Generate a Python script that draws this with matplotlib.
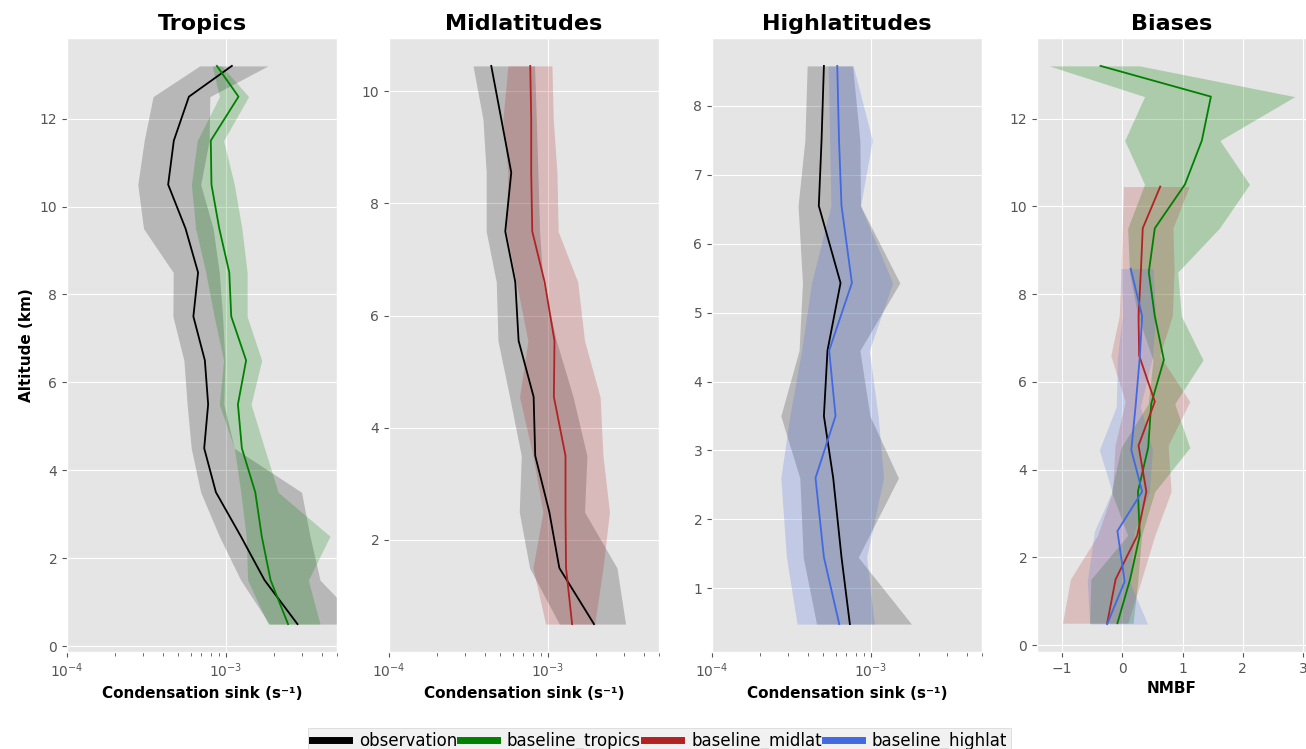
import matplotlib
matplotlib.use("Agg")
import matplotlib.pyplot as plt
from matplotlib.lines import Line2D
from matplotlib.font_manager import FontProperties

plt.style.use("ggplot")

OBS = "black"
TROP = "green"
MID = "firebrick"
HIGH = "royalblue"

# --- altitudes of the bins (km) ---
alt_trop = [0.5, 1.5, 2.5, 3.5, 4.5, 5.5, 6.5, 7.5, 8.5, 9.5, 10.5, 11.5, 12.5, 13.2]
alt_mid = [0.5, 1.5, 2.5, 3.5, 4.55, 5.55, 6.6, 7.5, 8.55, 9.5, 10.45]
alt_high = [0.48, 1.45, 2.6, 3.5, 4.45, 5.43, 6.55, 7.5, 8.58]

# --- tropics: condensation sink (s-1) ---
trop_obs = [2.82e-3, 1.75e-3, 1.24e-3, 8.65e-4, 7.30e-4, 7.73e-4, 7.37e-4, 6.24e-4,
            6.68e-4, 5.57e-4, 4.33e-4, 4.70e-4, 5.85e-4, 1.09e-3]
trop_obs_lo = [1.88e-3, 1.24e-3, 9.08e-4, 6.94e-4, 6.05e-4, 5.70e-4, 5.44e-4, 4.64e-4,
               4.66e-4, 3.03e-4, 2.79e-4, 3.06e-4, 3.48e-4, 6.84e-4]
trop_obs_hi = [7.2e-3, 3.91e-3, 3.38e-3, 2.99e-3, 1.13e-3, 9.7e-4, 9.86e-4, 9.53e-4,
               9.08e-4, 8.31e-4, 6.94e-4, 7.84e-4, 7.92e-4, 1.84e-3]
trop_mod = [2.46e-3, 1.91e-3, 1.68e-3, 1.53e-3, 1.26e-3, 1.19e-3, 1.34e-3, 1.08e-3,
            1.05e-3, 9.08e-4, 8.11e-4, 8.03e-4, 1.20e-3, 8.77e-4]
trop_mod_lo = [1.84e-3, 1.37e-3, 1.34e-3, 1.24e-3, 1.13e-3, 9.08e-4, 9.67e-4, 8.43e-4,
               7.47e-4, 6.45e-4, 6.06e-4, 6.6e-4, 9.1e-4, 8.2e-4]
trop_mod_hi = [3.91e-3, 3.30e-3, 4.52e-3, 2.13e-3, 1.75e-3, 1.44e-3, 1.68e-3, 1.36e-3,
               1.36e-3, 1.26e-3, 1.13e-3, 9.67e-4, 1.39e-3, 9.4e-4]

# --- midlatitudes ---
mid_obs = [1.95e-3, 1.18e-3, 1.02e-3, 8.32e-4, 8.13e-4, 6.54e-4, 6.23e-4, 5.39e-4,
           5.88e-4, 5.09e-4, 4.40e-4]
mid_obs_lo = [1.18e-3, 7.67e-4, 6.6e-4, 6.8e-4, 5.74e-4, 4.85e-4, 4.73e-4, 4.09e-4,
              4.09e-4, 3.90e-4, 3.38e-4]
mid_obs_hi = [3.08e-3, 2.72e-3, 1.70e-3, 1.76e-3, 1.44e-3, 1.13e-3, 9.30e-4, 8.86e-4,
              8.65e-4, 8.45e-4, 8.24e-4]
mid_mod = [1.42e-3, 1.30e-3, 1.29e-3, 1.29e-3, 1.09e-3, 1.10e-3, 9.53e-4, 7.97e-4,
           7.85e-4, 7.85e-4, 7.74e-4]
mid_mod_lo = [9.67e-4, 8.05e-4, 9.30e-4, 8.05e-4, 6.63e-4, 7.48e-4, 6.32e-4, 5.47e-4,
              5.6e-4, 5.21e-4, 5.6e-4]
mid_mod_hi = [1.97e-3, 2.22e-3, 2.44e-3, 2.22e-3, 2.13e-3, 1.70e-3, 1.54e-3, 1.16e-3,
              1.14e-3, 1.08e-3, 1.06e-3]

# --- highlatitudes ---
high_obs = [7.37e-4, 6.53e-4, 5.79e-4, 5.06e-4, 5.33e-4, 6.44e-4, 4.70e-4, 4.89e-4, 5.06e-4]
high_obs_lo = [4.55e-4, 3.75e-4, 3.57e-4, 2.71e-4, 3.53e-4, 3.71e-4, 3.48e-4, 3.84e-4, 3.97e-4]
high_obs_hi = [1.80e-3, 8.32e-4, 1.49e-3, 9.86e-4, 8.52e-4, 1.52e-3, 8.6e-4, 8.52e-4, 7.66e-4]
high_mod = [6.32e-4, 5.06e-4, 4.48e-4, 5.99e-4, 5.46e-4, 7.59e-4, 6.53e-4, 6.3e-4, 6.14e-4]
high_mod_lo = [3.43e-4, 2.94e-4, 2.71e-4, 3.09e-4, 3.66e-4, 4.23e-4, 5.60e-4, 5.5e-4, 5.38e-4]
high_mod_hi = [1.05e-3, 9.39e-4, 1.20e-3, 1.11e-3, 9.76e-4, 1.37e-3, 8.6e-4, 1.02e-3, 7.74e-4]

# --- biases (NMBF) ---
bias_trop = [-0.08, 0.13, 0.29, 0.26, 0.43, 0.48, 0.69, 0.54, 0.44, 0.54, 1.04, 1.32, 1.47, -0.36]
bias_trop_lo = [-0.54, -0.52, 0.09, -0.18, -0.02, 0.43, 0.51, 0.26, 0.12, 0.09, 0.37, 0.04, 0.37, -1.21]
bias_trop_hi = [0.18, 0.26, 0.32, 0.54, 1.12, 0.87, 1.34, 0.98, 0.92, 1.61, 2.11, 1.62, 2.86, 0.29]
bias_mid = [-0.25, -0.11, 0.25, 0.40, 0.27, 0.54, 0.28, 0.27, 0.31, 0.34, 0.63]
bias_mid_lo = [-0.99, -0.86, -0.41, -0.16, -0.12, 0.05, -0.19, -0.05, -0.02, 0.0, 0.02]
bias_mid_hi = [0.09, 0.32, 0.54, 0.81, 0.76, 1.12, 0.62, 0.83, 0.86, 0.84, 1.11]
bias_high = [-0.25, 0.04, -0.08, 0.33, 0.15, 0.22, 0.29, 0.33, 0.14]
bias_high_lo = [-0.54, -0.58, -0.46, -0.17, -0.38, -0.1, -0.08, 0.0, -0.02]
bias_high_hi = [0.42, 0.12, 0.2, 0.45, 0.5, 0.3, 0.5, 0.55, 0.51]

XLIM = (1e-4, 5e-3)
FILL_ALPHA = 0.22


def profile(ax, alt, lo, hi, mean, color, alpha=FILL_ALPHA):
    ax.fill_betweenx(alt, lo, hi, color=color, alpha=alpha, linewidth=0)
    ax.plot(mean, alt, color=color, linewidth=1.3)


fig = plt.figure(figsize=(13.06, 7.49), dpi=100)
W = 1306.0
H = 749.0
lefts = [67, 389, 712, 1037]
axes = [fig.add_axes([l / W, 1 - 652 / H, 270 / W, 614 / H]) for l in lefts]

ax = axes[0]
profile(ax, alt_trop, trop_obs_lo, trop_obs_hi, trop_obs, OBS, 0.2)
profile(ax, alt_trop, trop_mod_lo, trop_mod_hi, trop_mod, TROP)
ax.set_title("Tropics", fontsize=16, fontweight="bold", color="black")
ax.set_ylabel("Altitude (km)", fontsize=11, fontweight="bold", color="black")

ax = axes[1]
profile(ax, alt_mid, mid_obs_lo, mid_obs_hi, mid_obs, OBS, 0.2)
profile(ax, alt_mid, mid_mod_lo, mid_mod_hi, mid_mod, MID)
ax.set_title("Midlatitudes", fontsize=16, fontweight="bold", color="black")

ax = axes[2]
profile(ax, alt_high, high_obs_lo, high_obs_hi, high_obs, OBS, 0.2)
profile(ax, alt_high, high_mod_lo, high_mod_hi, high_mod, HIGH)
ax.set_title("Highlatitudes", fontsize=16, fontweight="bold", color="black")

for ax in axes[:3]:
    ax.set_xscale("log")
    ax.set_xlim(*XLIM)
    ax.set_xlabel("Condensation sink (s⁻¹)", fontsize=11, fontweight="bold", color="black")
    ax.tick_params(axis="x", which="minor", length=3, color="#555555")

ax = axes[3]
profile(ax, alt_trop, bias_trop_lo, bias_trop_hi, bias_trop, TROP, 0.25)
profile(ax, alt_mid, bias_mid_lo, bias_mid_hi, bias_mid, MID, 0.2)
profile(ax, alt_high, bias_high_lo, bias_high_hi, bias_high, HIGH, 0.2)
ax.set_title("Biases", fontsize=16, fontweight="bold", color="black")
ax.set_xlabel("NMBF", fontsize=11, fontweight="bold", color="black")
ax.set_xticks([-1, 0, 1, 2, 3])

for ax in axes:
    ax.tick_params(labelsize=10)

handles = [Line2D([], [], color=c, linewidth=5) for c in [OBS, TROP, MID, HIGH]]
labels = ["observation", "baseline_tropics", "baseline_midlat", "baseline_highlat"]
fig.legend(handles, labels, loc="upper center", bbox_to_anchor=(0.505, 1 - 728 / H),
           ncol=4, prop=FontProperties(family="DejaVu Sans", size=12),
           handlelength=2.2, handletextpad=0.6, columnspacing=0.2, borderaxespad=0,
           frameon=True, facecolor="#eeeeee", edgecolor="#cccccc", fancybox=False,
           borderpad=0.25)

fig.savefig("out.png", dpi=100)
